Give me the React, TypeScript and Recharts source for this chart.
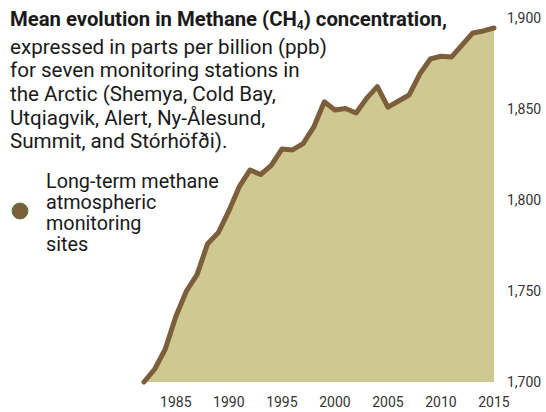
import React from 'react';
import { ComposedChart, Area, Line, XAxis, YAxis } from 'recharts';

const years = [1982, 1983, 1984, 1985, 1986, 1987, 1988, 1989, 1990, 1991, 1992, 1993, 1994, 1995, 1996, 1997, 1998, 1999, 2000, 2001, 2002, 2003, 2004, 2005, 2006, 2007, 2008, 2009, 2010, 2011, 2012, 2013, 2014, 2015];
const methane = [1700, 1707, 1718, 1736, 1750, 1759, 1776, 1782, 1794, 1807.5, 1816.5, 1814, 1819, 1828, 1827.5, 1831, 1840, 1854, 1849.5, 1850.3, 1847.8, 1856, 1862.3, 1851, 1854.4, 1857.7, 1869.2, 1877.5, 1879, 1878.6, 1885.2, 1891.8, 1892.9, 1894.5];
const xTicks = [1985, 1990, 1995, 2000, 2005, 2010, 2015];
const yTicks = [1700, 1750, 1800, 1850, 1900];

const titleLines = [
  'expressed in parts per billion (ppb)',
  'for seven monitoring stations in',
  'the Arctic (Shemya, Cold Bay,',
  'Utqiagvik, Alert, Ny-Ålesund,',
  'Summit, and Stórhöfði).',
];
const legendLines = ['Long-term methane', 'atmospheric', 'monitoring', 'sites'];

const X_DOMAIN: [number, number] = [1982, 2015];
const Y_DOMAIN: [number, number] = [1700, 1900];

const data = years.map((y, i) => ({ year: y, value: methane[i] }));

const FONT = 'Roboto, "Noto Sans", sans-serif';
const FILL = '#cfc891';
const BROWN = '#7c5f3a';

const W = 546;
const H = 412;
const MARGIN = { top: 18, right: 1, bottom: 0, left: 144 };

export default function App() {
  return (
    <div style={{ position: 'absolute', left: 0, top: 0, width: W, height: H, background: '#fff', fontFamily: FONT }}>
      <div style={{ position: 'absolute', left: 0, top: 0 }}>
        <ComposedChart width={W} height={H} data={data} margin={MARGIN}>
          <XAxis
            dataKey="year"
            type="number"
            domain={X_DOMAIN}
            ticks={xTicks}
            axisLine={false}
            tickLine={false}
            tickSize={0}
            tickMargin={15}
            height={30}
            tick={{ fontSize: 14, fill: '#333', fontFamily: FONT }}
            interval={0}
          />
          <YAxis
            orientation="right"
            domain={Y_DOMAIN}
            ticks={yTicks}
            axisLine={false}
            tickLine={false}
            tickSize={0}
            tickMargin={13}
            width={51}
            tick={{ fontSize: 14, fill: '#333', fontFamily: FONT, textAnchor: 'start' }}
            tickFormatter={(v: number) => v.toLocaleString('en-US')}
            interval={0}
          />
          <Area dataKey="value" type="linear" stroke="none" fill={FILL} fillOpacity={1} baseValue={Y_DOMAIN[0]} isAnimationActive={false} />
          <Line dataKey="value" type="linear" stroke={BROWN} strokeWidth={5} strokeLinejoin="round" strokeLinecap="round" dot={false} activeDot={false} isAnimationActive={false} />
        </ComposedChart>
      </div>
      <div style={{ position: 'absolute', left: 10, top: 6, fontSize: 20.3, fontWeight: 700, color: '#1a1a1a', lineHeight: '26px', whiteSpace: 'nowrap' }}>
        Mean evolution in Methane (CH<sub style={{ fontSize: 12, verticalAlign: '-3px' }}>4</sub>) concentration,
      </div>
      {titleLines.map((t, i) => (
        <div key={t} style={{ position: 'absolute', left: 10, top: 33.5 + i * 23.7, fontSize: 20.6, color: '#1a1a1a', lineHeight: '26px', whiteSpace: 'nowrap' }}>
          {t}
        </div>
      ))}
      <svg style={{ position: 'absolute', left: 0, top: 0 }} width={40} height={240}>
        <circle cx={20} cy={211} r={8} fill={BROWN} stroke="#4d8a3c" strokeWidth={1} />
      </svg>
      {legendLines.map((t, i) => (
        <div key={t} style={{ position: 'absolute', left: 46, top: 168.5 + i * 21.2, fontSize: 19.8, color: '#1a1a1a', lineHeight: '26px', whiteSpace: 'nowrap' }}>
          {t}
        </div>
      ))}
    </div>
  );
}
